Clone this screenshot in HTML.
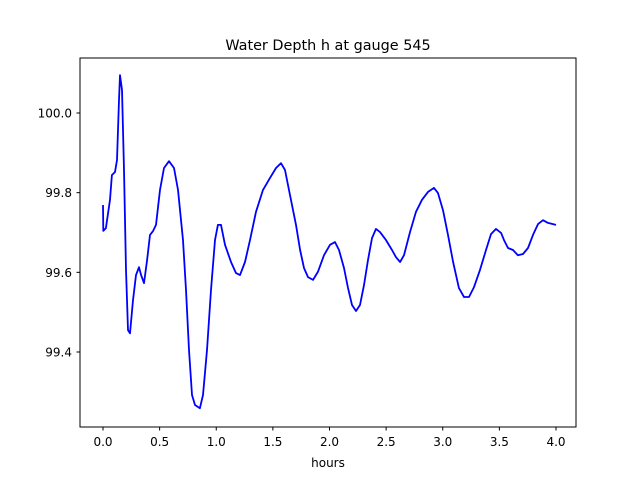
<!DOCTYPE html>
<html><head><meta charset="utf-8"><style>
body{margin:0;background:#fff;font-family:"Liberation Sans","DejaVu Sans",sans-serif}
svg text{font-family:"DejaVu Sans","Liberation Sans",sans-serif;fill:#000}
</style></head><body>
<svg id="chart" width="640" height="480" viewBox="0 0 640 480">
<rect x="0" y="0" width="640" height="480" fill="#fff"/>
<text x="328" y="50" font-size="14.4" text-anchor="middle">Water Depth h at gauge 545</text>
<g id="xticks"></g>
<g id="yticks"></g>
<polyline id="line" fill="none" stroke="#0000ff" stroke-width="1.8" stroke-linejoin="round"/>
<rect x="80" y="58" width="496" height="369" fill="none" stroke="#000" stroke-width="1"/>
<text x="328" y="467" font-size="12" text-anchor="middle">hours</text>
</svg>
<script>
const hours=[0,0.003,0.026,0.062,0.079,0.106,0.124,0.141,0.150,0.168,0.185,0.203,0.221,0.238,0.265,0.291,0.318,0.336,0.362,0.389,0.415,0.442,0.468,0.503,0.539,0.583,0.627,0.662,0.706,0.733,0.759,0.786,0.812,0.856,0.883,0.918,0.954,0.989,1.015,1.042,1.077,1.130,1.174,1.210,1.254,1.298,1.351,1.413,1.475,1.528,1.572,1.607,1.651,1.704,1.740,1.775,1.810,1.854,1.898,1.951,2.004,2.049,2.084,2.128,2.163,2.199,2.234,2.269,2.305,2.340,2.375,2.411,2.446,2.499,2.552,2.587,2.623,2.658,2.711,2.764,2.817,2.870,2.923,2.958,3.002,3.046,3.091,3.143,3.188,3.232,3.276,3.329,3.382,3.426,3.470,3.515,3.541,3.576,3.620,3.664,3.709,3.753,3.797,3.841,3.885,3.929,4.000];
const depth=[99.769,99.704,99.711,99.782,99.844,99.852,99.882,100.033,100.095,100.058,99.857,99.606,99.455,99.447,99.530,99.593,99.613,99.593,99.573,99.631,99.694,99.704,99.719,99.807,99.862,99.879,99.862,99.807,99.681,99.556,99.405,99.292,99.267,99.259,99.292,99.405,99.556,99.681,99.719,99.719,99.669,99.626,99.598,99.593,99.626,99.681,99.752,99.807,99.837,99.862,99.874,99.857,99.794,99.719,99.656,99.611,99.588,99.581,99.601,99.643,99.669,99.676,99.656,99.611,99.561,99.518,99.503,99.518,99.568,99.631,99.686,99.709,99.701,99.681,99.656,99.638,99.626,99.643,99.701,99.752,99.782,99.802,99.812,99.799,99.756,99.694,99.626,99.561,99.538,99.538,99.563,99.606,99.656,99.696,99.709,99.699,99.681,99.661,99.656,99.643,99.646,99.661,99.694,99.721,99.731,99.724,99.719];
const xTickLabels=["0.0","0.5","1.0","1.5","2.0","2.5","3.0","3.5","4.0"];
const yTickLabels=["99.4","99.6","99.8","100.0"];
const xs=h=>103+h*113.25;
const ys=v=>113+(100-v)*398.33;
const NS="http://www.w3.org/2000/svg";
const line=document.getElementById('line');
line.setAttribute('points',hours.map((h,i)=>xs(h).toFixed(1)+','+ys(depth[i]).toFixed(1)).join(' '));
const xg=document.getElementById('xticks');
xTickLabels.forEach(l=>{const x=xs(parseFloat(l));
const t=document.createElementNS(NS,'line');


t.setAttribute('x1',x);t.setAttribute('x2',x);t.setAttribute('y1',427);t.setAttribute('y2',430.5);t.setAttribute('stroke','#000');xg.appendChild(t);
const tx=document.createElementNS(NS,'text');


tx.setAttribute('x',x);tx.setAttribute('y',446);tx.setAttribute('font-size','12');tx.setAttribute('text-anchor','middle');tx.textContent=l;xg.appendChild(tx);});
const yg=document.getElementById('yticks');
yTickLabels.forEach(l=>{const y=ys(parseFloat(l));
const t=document.createElementNS(NS,'line');


t.setAttribute('x1',76.5);t.setAttribute('x2',80);t.setAttribute('y1',y);t.setAttribute('y2',y);t.setAttribute('stroke','#000');yg.appendChild(t);
const tx=document.createElementNS(NS,'text');


tx.setAttribute('x',72);tx.setAttribute('y',y+4.5);tx.setAttribute('font-size','12');tx.setAttribute('text-anchor','end');tx.textContent=l;yg.appendChild(tx);});
</script>
</body></html>
